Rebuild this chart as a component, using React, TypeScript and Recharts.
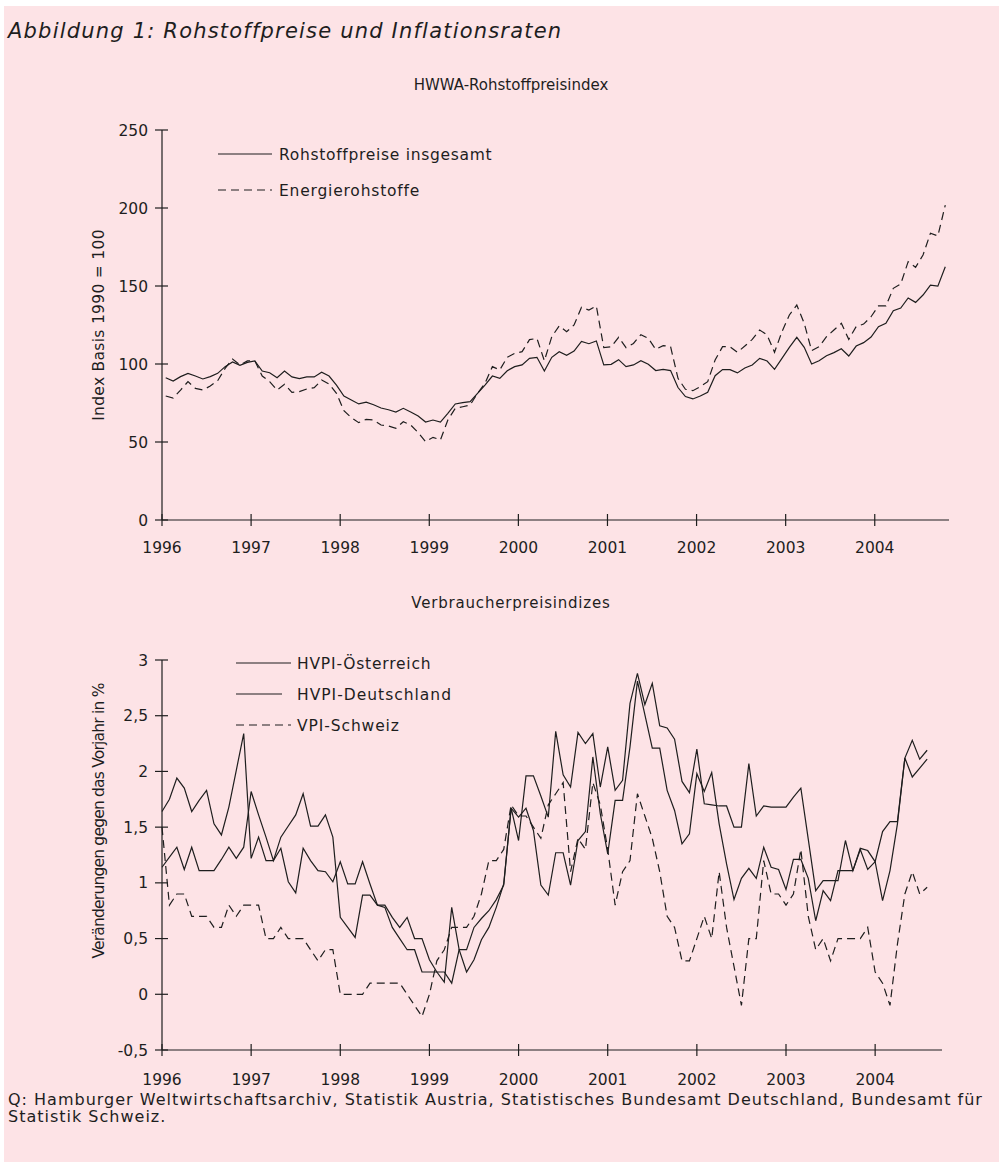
import React from "react";
import { LineChart, Line, XAxis, YAxis } from "recharts";

const FONT = '"DejaVu Sans", "Liberation Sans", sans-serif';
const INK = "#1e1e1e";
const BG = "#fde3e6";

// ---------- shared x axis ----------
const yearTicks = [1996, 1997, 1998, 1999, 2000, 2001, 2002, 2003, 2004];
const yearLabels = ["1996", "1997", "1998", "1999", "2000", "2001", "2002", "2003", "2004"];

// ---------- top chart: HWWA-Rohstoffpreisindex (monthly, Jan 1996 - Oct 2004) ----------
const topYTicks = [0, 50, 100, 150, 200, 250];
const topYLabels = ["0", "50", "100", "150", "200", "250"];

const rohstoffeGesamt = [
  91.2, 89.1, 91.9, 94, 92.3, 90.4, 91.9, 94, 98.3, 101.3,
  99.1, 101, 102, 95.5, 94.4, 91.2, 95.5, 91.7, 90.6, 91.7,
  91.7, 94.7, 92.3, 86.5, 79.5, 76.9, 74.4, 75.6, 73.9, 71.8,
  70.7, 69.2, 71.6, 69.2, 66.7, 62.8, 64.1, 62.8, 68.4, 74.4,
  75.2, 75.9, 81.2, 86.5, 92.3, 90.8, 95.7, 98.3, 99.4, 103.6,
  104.3, 95.5, 104.3, 107.9, 105.6, 108.3, 114.5, 113.0, 114.8, 99.4,
  99.8, 102.8, 98.3, 99.4, 102.1, 99.8, 95.8, 96.5, 95.8, 84.9,
  79.1, 77.6, 79.5, 81.9, 92.5, 96.4, 96.4, 94.3, 97.4, 99.4,
  103.6, 101.9, 96.6, 103.6, 110.7, 117.1, 110.7, 100, 102.1, 105.3,
  107.3, 109.8, 105.1, 111.5, 113.7, 117.3, 123.9, 126.1, 134.1, 135.9,
  142.3, 139.5, 144.2, 150.6, 149.9, 162.3,
];

const energierohstoffe = [
  79.5, 78.2, 83.3, 88.7, 84.4, 83.3, 85.9, 89.3, 97.2, 103.2,
  99.4, 102, 102.1, 92.3, 88.7, 83.3, 87, 81.8, 82.3, 84,
  84.8, 89.7, 87.2, 81.2, 70.1, 65.6, 62.4, 64.5, 64.1, 60.9,
  60.3, 58.8, 63, 60.9, 56, 50.2, 53, 51.3, 64.1, 71.6,
  72.6, 73.7, 81.2, 87.6, 98.3, 96.2, 104.3, 106.8, 107.9, 115.6,
  116.4, 102.1, 117.5, 124.4, 120.7, 125, 136.3, 134.6, 137.2, 110.5,
  111.1, 117.1, 110.5, 113.2, 118.8, 116.4, 109.4, 111.8, 111.1, 90.8,
  83.8, 82.9, 85.5, 88.7, 102.6, 111.1, 111.1, 107.5, 111.5, 115.8,
  121.8, 118.6, 107.5, 120.7, 131.4, 137.8, 126.1, 108.5, 111.1, 117.5,
  121.8, 126.1, 115.8, 124, 125.6, 130.3, 137.2, 137.2, 148.5, 151.3,
  165.6, 162, 169.9, 183.8, 182.1, 201.9,
];

// ---------- bottom chart: Verbraucherpreisindizes (monthly, Jan 1996 - Aug 2004) ----------
const bottomYTicks = [-0.5, 0, 0.5, 1, 1.5, 2, 2.5, 3];
const bottomYLabels = ["-0,5", "0", "0,5", "1", "1,5", "2", "2,5", "3"];

const hvpiOesterreich = [
  1.64, 1.75, 1.94, 1.85, 1.64, 1.74, 1.83, 1.53, 1.43, 1.68,
  2.01, 2.34, 1.22, 1.41, 1.2, 1.2, 1.31, 1.01, 0.91, 1.31,
  1.2, 1.11, 1.1, 1.01, 1.19, 0.99, 0.99, 1.19, 0.99, 0.8,
  0.8, 0.69, 0.6, 0.69, 0.5, 0.5, 0.31, 0.2, 0.2, 0.1,
  0.4, 0.4, 0.6, 0.68, 0.75, 0.85, 0.98, 1.67, 1.38, 1.96,
  1.96, 1.78, 1.59, 2.36, 1.97, 1.86, 2.35, 2.25, 2.34, 1.86,
  2.22, 1.83, 1.92, 2.61, 2.88, 2.6, 2.79, 2.41, 2.39, 2.29,
  1.91, 1.81, 2.2, 1.71, 1.7, 1.69, 1.69, 1.5, 1.5, 2.07,
  1.6, 1.69, 1.68, 1.68, 1.68, 1.77, 1.85, 1.39, 0.93, 1.02,
  1.02, 1.02, 1.38, 1.11, 1.31, 1.29, 1.19, 1.46, 1.55, 1.55,
  2.12, 2.28, 2.11, 2.19,
];

const hvpiDeutschland = [
  1.14, 1.23, 1.32, 1.12, 1.32, 1.11, 1.11, 1.11, 1.21, 1.32,
  1.22, 1.32, 1.82, 1.61, 1.41, 1.2, 1.41, 1.51, 1.61, 1.8,
  1.51, 1.51, 1.61, 1.41, 0.69, 0.6, 0.51, 0.89, 0.89, 0.8,
  0.78, 0.6, 0.5, 0.4, 0.4, 0.2, 0.2, 0.2, 0.11, 0.78,
  0.4, 0.2, 0.31, 0.49, 0.6, 0.78, 0.99, 1.67, 1.59, 1.67,
  1.47, 0.98, 0.89, 1.27, 1.27, 0.98, 1.38, 1.46, 2.13, 1.62,
  1.26, 1.74, 1.74, 2.22, 2.81, 2.51, 2.21, 2.21, 1.83, 1.65,
  1.35, 1.44, 1.98, 1.82, 1.99, 1.53, 1.17, 0.85, 1.04, 1.13,
  1.04, 1.32, 1.14, 1.12, 0.94, 1.21, 1.21, 1.04, 0.66, 0.93,
  0.84, 1.11, 1.11, 1.11, 1.3, 1.12, 1.19, 0.84, 1.11, 1.53,
  2.12, 1.95, 2.03, 2.11,
];

const vpiSchweiz = [
  1.5, 0.8, 0.9, 0.9, 0.7, 0.7, 0.7, 0.6, 0.6, 0.8,
  0.7, 0.8, 0.8, 0.8, 0.5, 0.5, 0.6, 0.5, 0.5, 0.5,
  0.4, 0.3, 0.4, 0.4, 0.0, 0.0, 0.0, 0.0, 0.1, 0.1,
  0.1, 0.1, 0.1, 0.0, -0.1, -0.2, 0.0, 0.3, 0.4, 0.6,
  0.6, 0.6, 0.7, 0.9, 1.2, 1.2, 1.3, 1.7, 1.6, 1.6,
  1.5, 1.4, 1.7, 1.8, 1.9, 1.1, 1.4, 1.3, 1.9, 1.7,
  1.3, 0.8, 1.1, 1.2, 1.8, 1.6, 1.4, 1.1, 0.7, 0.6,
  0.3, 0.3, 0.5, 0.7, 0.5, 1.1, 0.6, 0.25, -0.1, 0.5,
  0.5, 1.2, 0.9, 0.9, 0.8, 0.9, 1.3, 0.7, 0.4, 0.5,
  0.3, 0.5, 0.5, 0.5, 0.5, 0.6, 0.2, 0.1, -0.1, 0.45,
  0.9, 1.1, 0.9, 0.96,
];

// ---------- tables for Recharts ----------
const topData = rohstoffeGesamt.map((v, i) => ({
  t: 1996 + (i + 0.5) / 12,
  gesamt: v,
  energie: energierohstoffe[i],
}));

const bottomData = hvpiOesterreich.map((v, i) => ({
  t: 1996 + i / 12,
  at: v,
  de: hvpiDeutschland[i],
  ch: vpiSchweiz[i],
}));

const TICK_FS = 15.5;

function makeYTick(ticks: number[], labels: string[]) {
  return (props: any) => {
    const { x, y, payload } = props;
    const idx = ticks.findIndex((t) => Math.abs(t - payload.value) < 1e-9);
    return (
      <g>
        <line x1={x - 7} x2={x + 6} y1={y} y2={y} stroke={INK} strokeWidth={1.2} />
        <text x={x - 14} y={y} dy={5.5} textAnchor="end" fontFamily={FONT} fontSize={TICK_FS} fill={INK}>
          {idx >= 0 ? labels[idx] : String(payload.value)}
        </text>
      </g>
    );
  };
}

function makeXTick(offset: number) {
  return (props: any) => {
    const { x, y, payload } = props;
    const idx = yearTicks.indexOf(payload.value);
    return (
      <g>
        <line x1={x} x2={x} y1={y - 6} y2={y + 6} stroke={INK} strokeWidth={1.2} />
        <text x={x} y={y + offset} textAnchor="middle" fontFamily={FONT} fontSize={TICK_FS} fill={INK}>
          {idx >= 0 ? yearLabels[idx] : String(payload.value)}
        </text>
      </g>
    );
  };
}

const lineProps = {
  type: "linear" as const,
  dot: false,
  activeDot: false,
  isAnimationActive: false,
  stroke: INK,
  strokeWidth: 1.2,
};

export default function App() {
  return (
    <div style={{ position: "absolute", left: 0, top: 0, width: 999, height: 1162, background: "#fff", overflow: "hidden" }}>
      <div style={{ position: "absolute", left: 4, top: 6, width: 995, height: 1156, background: BG }} />

      {/* top chart */}
      <div style={{ position: "absolute", left: 0, top: 0 }}>
        <LineChart width={999} height={560} data={topData} margin={{ top: 130, right: 50, bottom: 10, left: 0 }}>
          <XAxis
            dataKey="t"
            type="number"
            domain={[1996, 1996 + 106 / 12]}
            ticks={yearTicks}
            interval={0}
            height={30}
            tickSize={0}
            tickMargin={0}
            axisLine={{ stroke: INK, strokeWidth: 1.2 }}
            tickLine={false}
            tick={makeXTick(33)}
          />
          <YAxis
            type="number"
            domain={[0, 250]}
            ticks={topYTicks}
            interval={0}
            width={162}
            tickSize={0}
            tickMargin={0}
            axisLine={{ stroke: INK, strokeWidth: 1.2 }}
            tickLine={false}
            tick={makeYTick(topYTicks, topYLabels)}
          />
          <Line dataKey="gesamt" {...lineProps} />
          <Line dataKey="energie" {...lineProps} strokeDasharray="8 5" />
        </LineChart>
      </div>

      {/* bottom chart */}
      <div style={{ position: "absolute", left: 0, top: 600 }}>
        <LineChart width={999} height={500} data={bottomData} margin={{ top: 60, right: 57, bottom: 10, left: 0 }}>
          <XAxis
            dataKey="t"
            type="number"
            domain={[1996, 2004.75]}
            ticks={yearTicks}
            interval={0}
            height={40}
            tickSize={0}
            tickMargin={0}
            axisLine={{ stroke: INK, strokeWidth: 1.2 }}
            tickLine={false}
            tick={makeXTick(35)}
          />
          <YAxis
            type="number"
            domain={[-0.5, 3]}
            ticks={bottomYTicks}
            interval={0}
            width={162}
            tickSize={0}
            tickMargin={0}
            axisLine={{ stroke: INK, strokeWidth: 1.2 }}
            tickLine={false}
            tick={makeYTick(bottomYTicks, bottomYLabels)}
          />
          <Line dataKey="at" {...lineProps} />
          <Line dataKey="de" {...lineProps} />
          <Line dataKey="ch" {...lineProps} strokeDasharray="8 5" />
        </LineChart>
      </div>

      {/* texts and legends */}
      <svg width={999} height={1162} style={{ position: "absolute", left: 0, top: 0, pointerEvents: "none" }}>
        <g fontFamily={FONT} fill={INK}>
          <text x={8} y={38} fontSize={21} fontStyle="italic" letterSpacing={1.2}>Abbildung 1: Rohstoffpreise und Inflationsraten</text>
          <text x={511} y={90} fontSize={15} textAnchor="middle">HWWA-Rohstoffpreisindex</text>
          <text x={511} y={608} fontSize={15} textAnchor="middle" letterSpacing={0.8}>Verbraucherpreisindizes</text>

          <text transform="translate(104,325) rotate(-90)" fontSize={15.5} textAnchor="middle" letterSpacing={0.3}>Index Basis 1990 = 100</text>
          <text transform="translate(104,821) rotate(-90)" fontSize={15.5} textAnchor="middle" letterSpacing={-0.8}>Veränderungen gegen das Vorjahr in %</text>

          {/* top legend */}
          <line x1={218} x2={272} y1={154} y2={154} stroke={INK} strokeWidth={1.2} />
          <text x={279} y={159.5} fontSize={15.5} letterSpacing={0.7}>Rohstoffpreise insgesamt</text>
          <line x1={218} x2={272} y1={190} y2={190} stroke={INK} strokeWidth={1.2} strokeDasharray="8 5" />
          <text x={279} y={195.5} fontSize={15.5} letterSpacing={0.8}>Energierohstoffe</text>

          {/* bottom legend */}
          <line x1={236} x2={291} y1={663} y2={663} stroke={INK} strokeWidth={1.2} />
          <text x={297} y={668.5} fontSize={15.5} letterSpacing={0.8}>HVPI-Österreich</text>
          <line x1={236} x2={282} y1={694} y2={694} stroke={INK} strokeWidth={1.2} />
          <text x={297} y={699.5} fontSize={15.5} letterSpacing={1}>HVPI-Deutschland</text>
          <line x1={236} x2={291} y1={725} y2={725} stroke={INK} strokeWidth={1.2} strokeDasharray="8 5" />
          <text x={297} y={730.5} fontSize={15.5} letterSpacing={0.9}>VPI-Schweiz</text>

          <text x={8} y={1105} fontSize={16} letterSpacing={1}>Q: Hamburger Weltwirtschaftsarchiv, Statistik Austria, Statistisches Bundesamt Deutschland, Bundesamt für</text>
          <text x={8} y={1122} fontSize={16} letterSpacing={1}>Statistik Schweiz.</text>
        </g>
      </svg>
    </div>
  );
}
